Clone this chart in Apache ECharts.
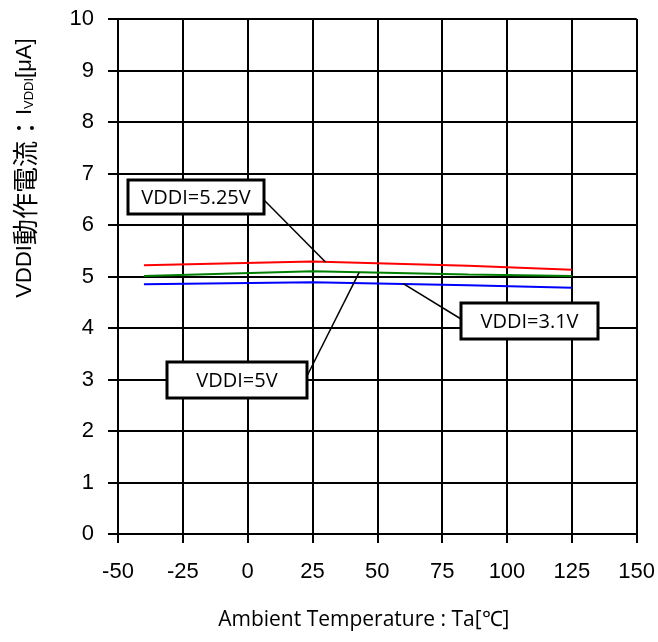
<!DOCTYPE html>
<html>
<head>
<meta charset="UTF-8">
<title>VDDI動作電流</title>
<script src="https://cdn.jsdelivr.net/npm/echarts@6/dist/echarts.min.js"></script>
<style>
  html, body { margin: 0; padding: 0; background: #fff; }
  #main { width: 658px; height: 642px; }
</style>
</head>
<body>
<div id="main"></div>
<script>
// temperatures (°C)
var temps = [-40, 25, 85, 125];
// VDDI current (uA)
var vddi525 = [5.22, 5.29, 5.21, 5.13];
var vddi5 = [5.01, 5.10, 5.04, 5.01];
var vddi31 = [4.85, 4.89, 4.83, 4.78];

var xTicks = [-50, -25, 0, 25, 50, 75, 100, 125, 150];
var yTicks = [0, 1, 2, 3, 4, 5, 6, 7, 8, 9, 10];

function pairs(ys) {
  var out = [];
  for (var i = 0; i < temps.length; i++) out.push([temps[i], ys[i]]);
  return out;
}

var chart = echarts.init(document.getElementById('main'));

var lineStyleBlack = { color: '#000', width: 2 };

var option = {
  animation: false,
  grid: { left: 118, right: 21, top: 19, bottom: 108 },
  xAxis: {
    type: 'value',
    min: xTicks[0], max: xTicks[xTicks.length - 1], interval: 25,
    name: 'Ambient Temperature : Ta[℃]',
    nameLocation: 'middle',
    nameGap: 76,
    nameTextStyle: { fontFamily: 'Open Sans', fontSize: 21, color: '#000', padding: [0, 27, 0, 0] },
    axisLine: { onZero: false, lineStyle: lineStyleBlack },
    axisTick: { show: true, length: 9, lineStyle: lineStyleBlack },
    axisLabel: { margin: 27, fontFamily: 'Liberation Sans', fontSize: 22, color: '#000', showMinLabel: true, showMaxLabel: true },
    splitLine: { show: true, lineStyle: lineStyleBlack }
  },
  yAxis: {
    type: 'value',
    min: yTicks[0], max: yTicks[yTicks.length - 1], interval: 1,
    axisLine: { show: true, onZero: false, lineStyle: lineStyleBlack },
    axisTick: { show: true, length: 10, lineStyle: lineStyleBlack },
    axisLabel: { margin: 24, fontFamily: 'Liberation Sans', fontSize: 22, color: '#000' },
    splitLine: { show: true, lineStyle: lineStyleBlack }
  },
  series: [
    { name: 'VDDI=5.25V', type: 'line', data: pairs(vddi525), showSymbol: false, lineStyle: { color: '#ff0000', width: 2 }, z: 5 },
    { name: 'VDDI=5V', type: 'line', data: pairs(vddi5), showSymbol: false, lineStyle: { color: '#008000', width: 2 }, z: 5 },
    { name: 'VDDI=3.1V', type: 'line', data: pairs(vddi31), showSymbol: false, lineStyle: { color: '#0000ff', width: 2 }, z: 5 }
  ]
};
chart.setOption(option);

// callout boxes: box geometry in pixels, leader end on the curve (data coords)
var callouts = [
  { text: 'VDDI=5.25V', box: [128, 180, 136, 34], from: [264, 200], to: [30, 5.28] },
  { text: 'VDDI=5V', box: [167, 362, 140, 36], from: [307, 376], to: [43, 5.08] },
  { text: 'VDDI=3.1V', box: [461, 303, 137, 36], from: [461, 319], to: [60, 4.86] }
];

var graphics = [];
callouts.forEach(function (c) {
  var end = chart.convertToPixel({ gridIndex: 0 }, c.to);
  graphics.push({
    type: 'line', z: 10,
    shape: { x1: c.from[0], y1: c.from[1], x2: end[0], y2: end[1] },
    style: { stroke: '#000', lineWidth: 1.5 }
  });
  graphics.push({
    type: 'rect', z: 11,
    shape: { x: c.box[0], y: c.box[1], width: c.box[2], height: c.box[3] },
    style: { fill: '#fff', stroke: '#000', lineWidth: 3 }
  });
  graphics.push({
    type: 'text', z: 12,
    x: c.box[0] + c.box[2] / 2, y: c.box[1] + c.box[3] / 2 + 1,
    style: { text: c.text, fill: '#000', font: '20px "Open Sans"', align: 'center', verticalAlign: 'middle' }
  });
});

// y axis title, rotated, with subscript
graphics.push({
  type: 'text', z: 12,
  x: 25, y: 168, rotation: Math.PI / 2,
  style: {
    text: '{m|VDDI}{j|動作電流：}{m|I}{s|VDDI}{m|[μA]}',
    align: 'center', verticalAlign: 'middle',
    rich: {
      m: { fontFamily: 'Liberation Sans', fontSize: 22, fill: '#000' },
      j: { fontFamily: 'Noto Sans CJK JP', fontSize: 26, fill: '#000' },
      s: { fontFamily: 'Liberation Sans', fontSize: 13, fill: '#000', padding: [8, 0, 0, 0] }
    }
  }
});

chart.setOption({ graphic: graphics });
</script>
</body>
</html>
